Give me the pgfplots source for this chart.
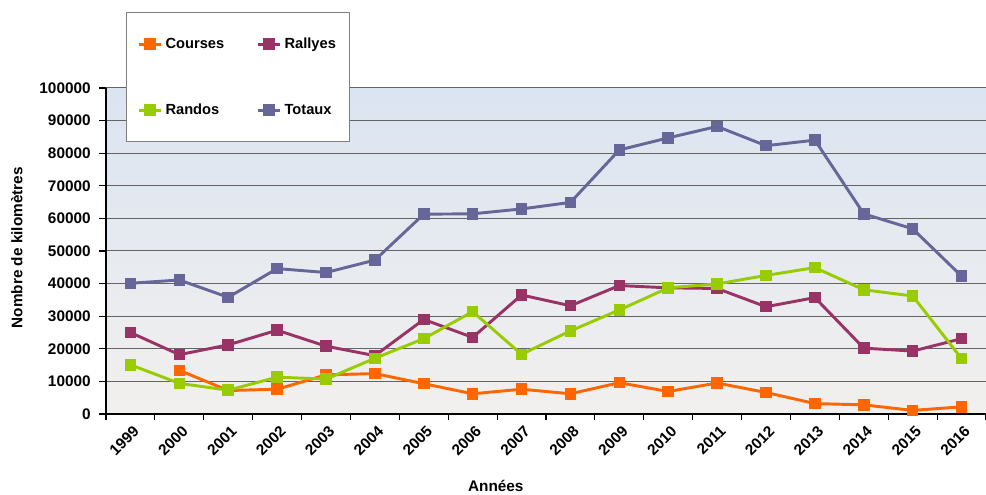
\documentclass[border=0pt]{standalone}
\usepackage{pgfplots}
\pgfplotsset{compat=1.18}
\usepackage{fontspec}
\setmainfont{Liberation Sans}
\usetikzlibrary{shadings}
\definecolor{cCourses}{RGB}{255,102,0}
\definecolor{cRallyes}{RGB}{153,51,102}
\definecolor{cRandos}{RGB}{153,204,0}
\definecolor{cTotaux}{RGB}{102,102,153}
\definecolor{bgtop}{RGB}{219,228,241}
\definecolor{bgbot}{RGB}{242,240,238}
\definecolor{gridc}{RGB}{100,100,100}
\begin{document}
\begin{tikzpicture}
\useasboundingbox (-79.5pt,-60.75pt) rectangle (660pt,310.5pt);
\begin{axis}[
  at={(0,0)}, anchor=south west,
  scale only axis,
  width=660pt, height=244.5pt,
  xmin=-0.5, xmax=17.5,
  ymin=0, ymax=100000,
  xtick={0,...,17},
  xticklabels={1999,2000,2001,2002,2003,2004,2005,2006,2007,2008,2009,2010,2011,2012,2013,2014,2015,2016},
  minor xtick={-0.5,0.5,...,17.5},
  major x tick style={draw=none},
  minor x tick style={black, line width=0.8pt},
  ytick={0,10000,...,100000},
  scaled y ticks=false,
  tick align=outside,
  major tick length=5pt,
  minor tick length=4.5pt,
  y tick style={black, line width=0.8pt},
  axis x line*=bottom,
  axis y line*=left,
  axis line style={-, black, line width=1.2pt},
  ymajorgrids,
  major grid style={gridc, line width=0.75pt},
  axis background/.style={top color=bgtop, bottom color=bgbot},
  tick label style={font=\fontsize{11.5}{13}\selectfont\bfseries},
  yticklabel style={xshift=-3pt, /pgf/number format/fixed, /pgf/number format/precision=0, /pgf/number format/1000 sep={}, /pgf/number format/assume math mode=true},
  xticklabel style={rotate=45, anchor=north east, inner sep=1pt, yshift=-2pt},
  xlabel={Années},
  ylabel={Nombre de kilomètres},
  label style={font=\fontsize{11.5}{13}\selectfont\bfseries},
  xlabel style={at={(axis description cs:0.443,-0.221)}, anchor=center},
  ylabel style={at={(axis description cs:-0.1013,0.51)}, anchor=center},
  legend columns=2,
  legend style={at={(axis description cs:0.0227,1.233)}, anchor=north west,
    draw=gray, line width=0.8pt, fill=white,
    font=\fontsize{11}{13}\selectfont\bfseries,
    inner xsep=8pt, inner ysep=17pt,
    /tikz/every even column/.append style={column sep=22pt},
    row sep=36pt},
  legend cell align=left,
  every axis plot/.append style={line width=2.2pt, mark=square*, mark size=3.2pt, mark options={solid}},
]
\addplot[cCourses, mark options={fill=cCourses}] coordinates {
(1,13400)(2,7200)(3,7600)(4,12000)(5,12400)(6,9300)(7,6200)(8,7600)(9,6200)(10,9600)(11,6900)(12,9500)(13,6600)(14,3200)(15,2800)(16,1100)(17,2200)};
\addlegendentry{Courses}
\addplot[cRallyes, mark options={fill=cRallyes}] coordinates {
(0,25000)(1,18200)(2,21200)(3,25700)(4,20800)(5,17900)(6,29000)(7,23500)(8,36500)(9,33200)(10,39400)(11,38700)(12,38500)(13,32900)(14,35700)(15,20200)(16,19300)(17,23100)};
\addlegendentry{Rallyes}
\addplot[cRandos, mark options={fill=cRandos}] coordinates {
(0,15100)(1,9400)(2,7300)(3,11300)(4,10700)(5,17100)(6,23100)(7,31400)(8,18300)(9,25500)(10,31900)(11,38700)(12,39900)(13,42500)(14,44900)(15,38100)(16,36200)(17,17000)};
\addlegendentry{Randos}
\addplot[cTotaux, mark options={fill=cTotaux}] coordinates {
(0,40100)(1,41100)(2,35800)(3,44600)(4,43400)(5,47200)(6,61300)(7,61400)(8,62900)(9,64900)(10,81000)(11,84700)(12,88200)(13,82300)(14,84000)(15,61400)(16,56800)(17,42300)};
\addlegendentry{Totaux}
\end{axis}
\end{tikzpicture}
\end{document}
